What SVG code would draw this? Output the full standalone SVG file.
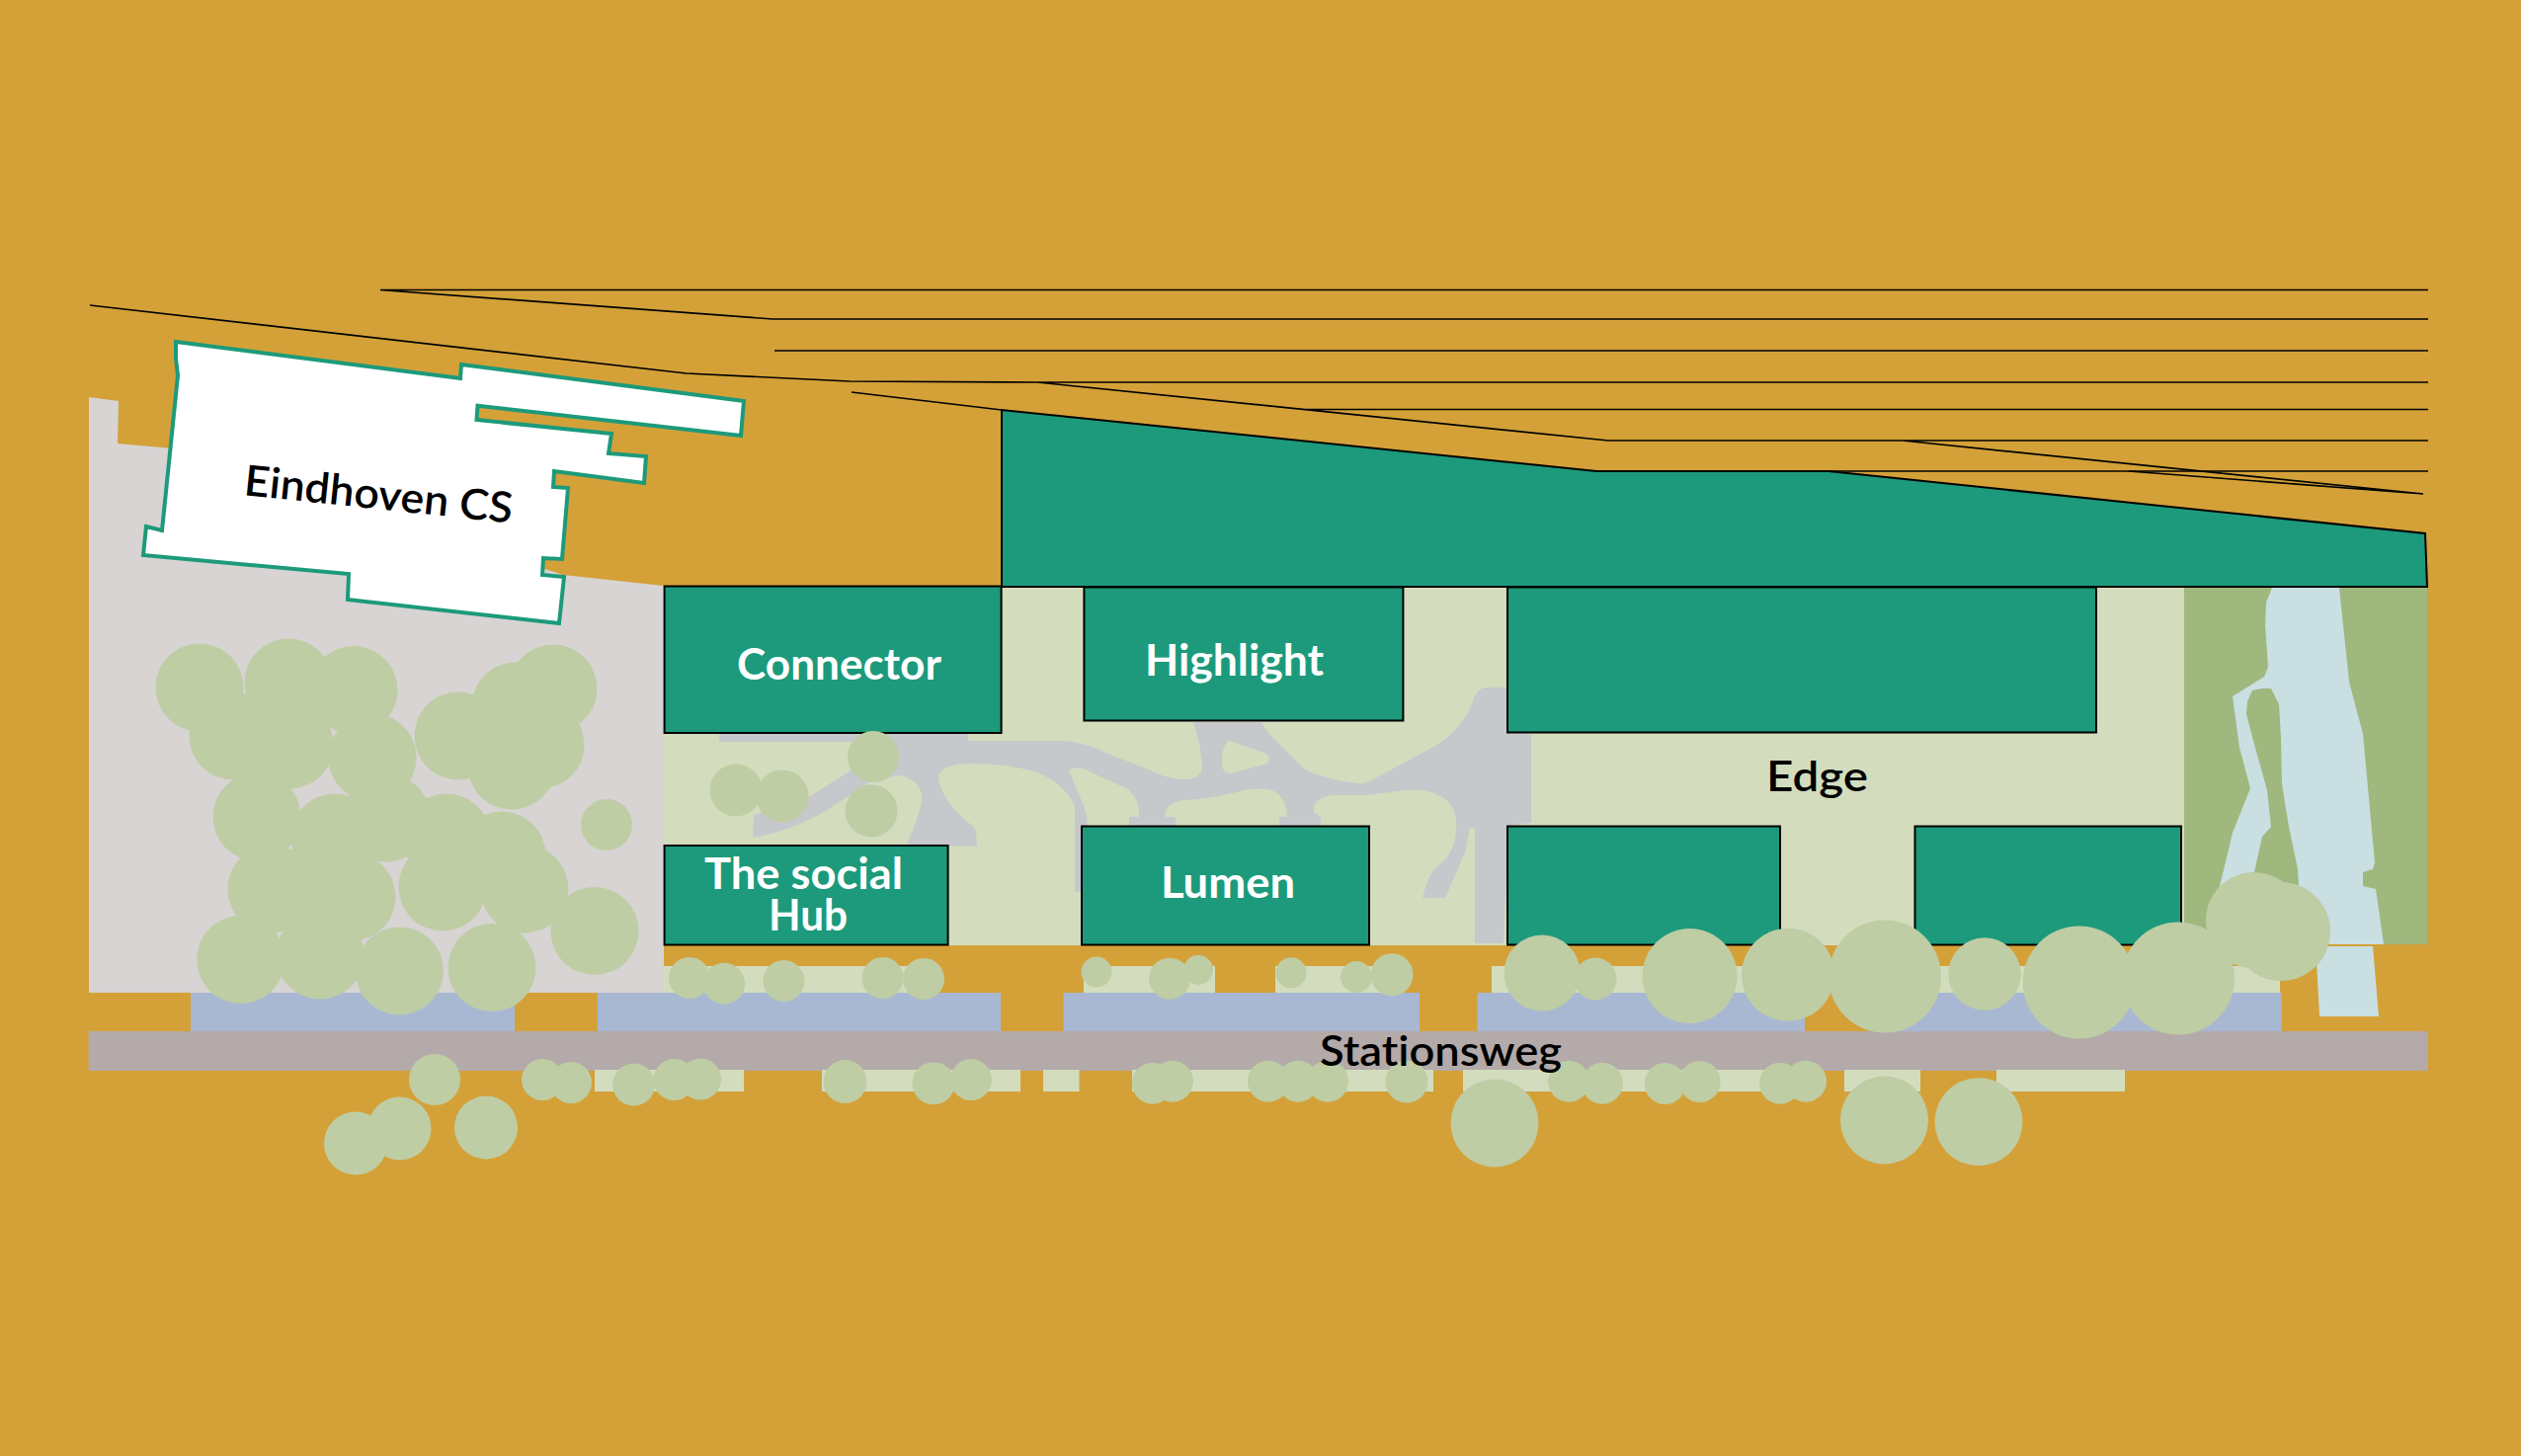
<svg xmlns="http://www.w3.org/2000/svg" width="2552" height="1474" viewBox="0 0 2552 1474">
<style>
.b{fill:#1C9A7B;stroke:#000;stroke-width:2}
.t{fill:#BECDA4}
.lg{fill:#D3DDBE}
.bl{fill:#A9B8D2}
.ln{fill:none;stroke:#000;stroke-width:1.7}
.wt{fill:#fff;font:700 44px Lato,"Liberation Sans",sans-serif;font-variant-ligatures:none}
.bk{fill:#000;font:600 43px Lato,"Liberation Sans",sans-serif;font-variant-ligatures:none}
</style>
<rect width="2552" height="1474" fill="#D4A138"/>
<g id="ground">
<polygon fill="#D7D4D3" points="90,402 120,406 119,449 175,454 570,582 672,593 672,1005 90,1005"/>
<rect class="lg" x="672" y="594" width="1540" height="363"/>
<rect x="2211" y="594" width="246" height="362" fill="#9FB87D"/>
<polygon fill="#C9DFE2" points="2300,595 2368,595 2378,690 2392,743 2404,873 2402,880 2392,883 2392,897 2405,900 2413,956 2340,956 2327,897 2326,880 2317,837 2313,813 2310,793 2309,747 2307,713 2299,697 2290,697 2280,699 2275,710 2274,723 2283,757 2295,800 2299,837 2290,847 2282,883 2270,930 2245,930 2247,897 2260,843 2278,798 2267,757 2260,705 2292,685 2296,675 2293,633 2294,610"/>
<polygon fill="#C9DFE2" points="2357,958 2402,958 2408,1029 2348,1029 2345,973"/>
<path fill="#C6C8CB" d="M728,743H980V750H1077Q1100,752 1119,762L1165,780Q1180,788 1196,789Q1215,790 1217,777Q1216,755 1208,731H1277Q1279,737 1290,748L1320,778Q1335,788 1375,793Q1382,794 1392,788L1453,755Q1480,738 1490,713Q1494,696 1505,696H1527V742L1550,743V833L1527,836L1522,955H1493V838H1488L1483,863L1463,909H1440Q1445,886 1456,876Q1472,866 1474,840Q1476,815 1458,806Q1445,798 1423,800L1383,805H1350Q1328,808 1330,822L1337,827V840H1295V827H1303Q1302,805 1287,800Q1275,797 1260,800Q1225,809 1200,810Q1180,811 1179,827H1190V840H1143V827H1153Q1154,808 1140,798L1107,783Q1090,774 1082,780L1096,813Q1101,825 1101,836L1095,840V903H1088V817Q1080,795 1050,782Q1020,773 983,773Q955,773 950,785Q950,800 965,818Q975,830 985,836Q989,840 989,857L918,855Q935,815 933,805Q930,790 913,785Q905,785 880,792L853,810Q810,840 762,848L763,825L817,808L858,782L884,760L908,751H728Z"/>
<path class="lg" d="M1245,750L1280,762Q1288,767 1283,773L1246,783Q1237,784 1237,772Q1237,752 1245,750Z"/>
<rect x="89.600" y="1044" width="2368" height="40" fill="#B3AAA9"/>
<rect class="bl" x="193" y="1005" width="328" height="39"/>
<rect class="bl" x="605" y="1005" width="408" height="39"/>
<rect class="bl" x="1076.500" y="1005" width="360.500" height="39"/>
<rect class="bl" x="1495.500" y="1005" width="331.500" height="39"/>
<rect class="bl" x="1893" y="1005" width="416.500" height="39"/>
<rect class="lg" x="672" y="978" width="253" height="27"/>
<rect class="lg" x="1097" y="978" width="133" height="27"/>
<rect class="lg" x="1291" y="978" width="117" height="27"/>
<rect class="lg" x="1510" y="978" width="798" height="27"/>
<rect class="lg" x="602" y="1083" width="151" height="22"/>
<rect class="lg" x="832" y="1083" width="201" height="22"/>
<rect class="lg" x="1056" y="1083" width="36.500" height="22"/>
<rect class="lg" x="1146" y="1083" width="305" height="22"/>
<rect class="lg" x="1481" y="1083" width="359" height="22"/>
<rect class="lg" x="1867" y="1083" width="77" height="22"/>
<rect class="lg" x="2021" y="1083" width="130" height="22"/>
</g>
<g id="rails">
<path class="ln" d="M385,293.500H2458M385,293.500L782,323H2458M784,355H2458M91,309L695,378L860,386L1050,387H2458M1050,387L1628,446H2458M1318,414.500H2458M1926,446L2453,500M2155,477L2453,500"/>
<path class="ln" d="M1851,477H2458M862,397L1014,415"/>
</g>
<g id="canopy-roof"><polygon class="b" points="1014,415 1616,477 1851,477 2455,540 2457,594 1014,594"/></g>
<g id="building-connector"><rect class="b" x="672.600" y="593.500" width="341" height="148.500"/><text class="wt" x="746" y="687.500" textLength="207" lengthAdjust="spacingAndGlyphs">Connector</text></g>
<g id="building-highlight"><rect class="b" x="1097.400" y="594.500" width="323" height="135"/><text class="wt" x="1159" y="684" textLength="181" lengthAdjust="spacingAndGlyphs">Highlight</text></g>
<g id="building-edge-north"><rect class="b" x="1526" y="594.500" width="596" height="147"/></g>
<g id="building-social-hub"><rect class="b" x="672.600" y="856" width="287" height="100.500"/><text class="wt" x="713" y="899.500" textLength="201" lengthAdjust="spacingAndGlyphs">The social</text><text class="wt" x="778" y="942" textLength="80" lengthAdjust="spacingAndGlyphs">Hub</text></g>
<g id="building-lumen"><rect class="b" x="1095" y="836.500" width="291" height="120"/><text class="wt" x="1175" y="908.500" textLength="136" lengthAdjust="spacingAndGlyphs">Lumen</text></g>
<g id="building-edge-south-1"><rect class="b" x="1526" y="836.500" width="276" height="120"/></g>
<g id="building-edge-south-2"><rect class="b" x="1938.500" y="836.500" width="269.500" height="120"/></g>
<g id="station">
<polygon fill="#fff" stroke="#1C9A7B" stroke-width="4" points="178,346 466,383 467,369 753,406 750,441 483.500,410.700 482.500,425 619,439 616,459 654,462 652,489 561,477 560,493 575,494 569,566 550,565 549,582 571,584 566,631 352,607 353,581 145,562 148,533 164,537 180,380 178,363"/>
<text class="bk" transform="translate(246,501) rotate(6)" textLength="273" lengthAdjust="spacingAndGlyphs">Eindhoven CS</text>
</g>
<g id="trees">
<circle class="t" cx="202" cy="696" r="44.500"/><circle class="t" cx="292" cy="691" r="44.500"/><circle class="t" cx="358" cy="698.500" r="44.500"/><circle class="t" cx="560" cy="697" r="44.500"/><circle class="t" cx="522" cy="715" r="44.500"/><circle class="t" cx="464" cy="745" r="44.500"/><circle class="t" cx="377" cy="767" r="44.500"/><circle class="t" cx="236" cy="745" r="44.500"/><circle class="t" cx="293" cy="754" r="44.500"/><circle class="t" cx="260" cy="827" r="44.500"/><circle class="t" cx="391" cy="828" r="44.500"/><circle class="t" cx="339" cy="848" r="44.500"/><circle class="t" cx="452" cy="848" r="44.500"/><circle class="t" cx="508" cy="866" r="44.500"/><circle class="t" cx="614" cy="835" r="26"/><circle class="t" cx="275" cy="900" r="44.500"/><circle class="t" cx="356" cy="908" r="44.500"/><circle class="t" cx="448" cy="898" r="44.500"/><circle class="t" cx="531" cy="900" r="44.500"/><circle class="t" cx="547" cy="754" r="44.500"/><circle class="t" cx="518" cy="775" r="44.500"/><circle class="t" cx="243.700" cy="971.500" r="44.500"/><circle class="t" cx="324" cy="967" r="44.500"/><circle class="t" cx="404.400" cy="983" r="44.500"/><circle class="t" cx="498" cy="979.500" r="44.500"/><circle class="t" cx="602" cy="942.500" r="44.500"/>
<circle class="t" cx="745" cy="800" r="26.500"/><circle class="t" cx="792" cy="806" r="26.500"/><circle class="t" cx="884" cy="766" r="26"/><circle class="t" cx="882" cy="821" r="26.500"/>
<circle class="t" cx="698" cy="990" r="21"/><circle class="t" cx="733" cy="995.700" r="21"/><circle class="t" cx="793.400" cy="993" r="21"/><circle class="t" cx="893.500" cy="990" r="21"/><circle class="t" cx="935" cy="991" r="21"/>
<circle class="t" cx="1110" cy="984" r="15.500"/><circle class="t" cx="1184" cy="990.700" r="21"/><circle class="t" cx="1213" cy="982" r="15"/><circle class="t" cx="1307" cy="984.700" r="15.500"/><circle class="t" cx="1373" cy="989" r="16"/><circle class="t" cx="1409" cy="986.700" r="21.500"/>
<circle class="t" cx="1561" cy="985" r="38.500"/><circle class="t" cx="1615" cy="991" r="21.500"/><circle class="t" cx="1710.500" cy="988" r="48"/><circle class="t" cx="1810" cy="986.700" r="47"/><circle class="t" cx="1908" cy="988.500" r="57"/><circle class="t" cx="2009" cy="986" r="36.700"/><circle class="t" cx="2104.700" cy="994.500" r="57"/><circle class="t" cx="2205" cy="990.500" r="57"/><circle class="t" cx="2281.700" cy="931.700" r="48.700"/><circle class="t" cx="2309" cy="943" r="50"/>
<circle class="t" cx="440" cy="1093" r="26"/><circle class="t" cx="360" cy="1157.500" r="32"/><circle class="t" cx="404.500" cy="1142.500" r="32"/><circle class="t" cx="492" cy="1141.500" r="32"/><circle class="t" cx="549" cy="1093" r="21"/><circle class="t" cx="578" cy="1096" r="21"/><circle class="t" cx="641.600" cy="1098" r="21.500"/><circle class="t" cx="682.500" cy="1093" r="21"/><circle class="t" cx="709" cy="1092.500" r="21"/><circle class="t" cx="855.500" cy="1095" r="22"/><circle class="t" cx="945" cy="1096.700" r="21.500"/><circle class="t" cx="983" cy="1093" r="21"/>
<circle class="t" cx="1167" cy="1096.700" r="21"/><circle class="t" cx="1187" cy="1094.700" r="21"/><circle class="t" cx="1284" cy="1094.700" r="21"/><circle class="t" cx="1314" cy="1094.700" r="21"/><circle class="t" cx="1344" cy="1094.700" r="21"/><circle class="t" cx="1424" cy="1095" r="21.500"/><circle class="t" cx="1588" cy="1094.700" r="21"/><circle class="t" cx="1622" cy="1096.700" r="21"/><circle class="t" cx="1685.600" cy="1097" r="21"/><circle class="t" cx="1720.700" cy="1095" r="21"/><circle class="t" cx="1802" cy="1096.700" r="21"/><circle class="t" cx="1828" cy="1094.700" r="21"/>
<circle class="t" cx="1513" cy="1137" r="44.500"/><circle class="t" cx="1907.500" cy="1134" r="44.500"/><circle class="t" cx="2003" cy="1135.700" r="44.500"/>
</g>
<g id="labels">
<text class="bk" x="1788" y="801" textLength="103" lengthAdjust="spacingAndGlyphs">Edge</text>
<text class="bk" x="1336" y="1078.500" textLength="245" lengthAdjust="spacingAndGlyphs">Stationsweg</text>
</g>
</svg>
